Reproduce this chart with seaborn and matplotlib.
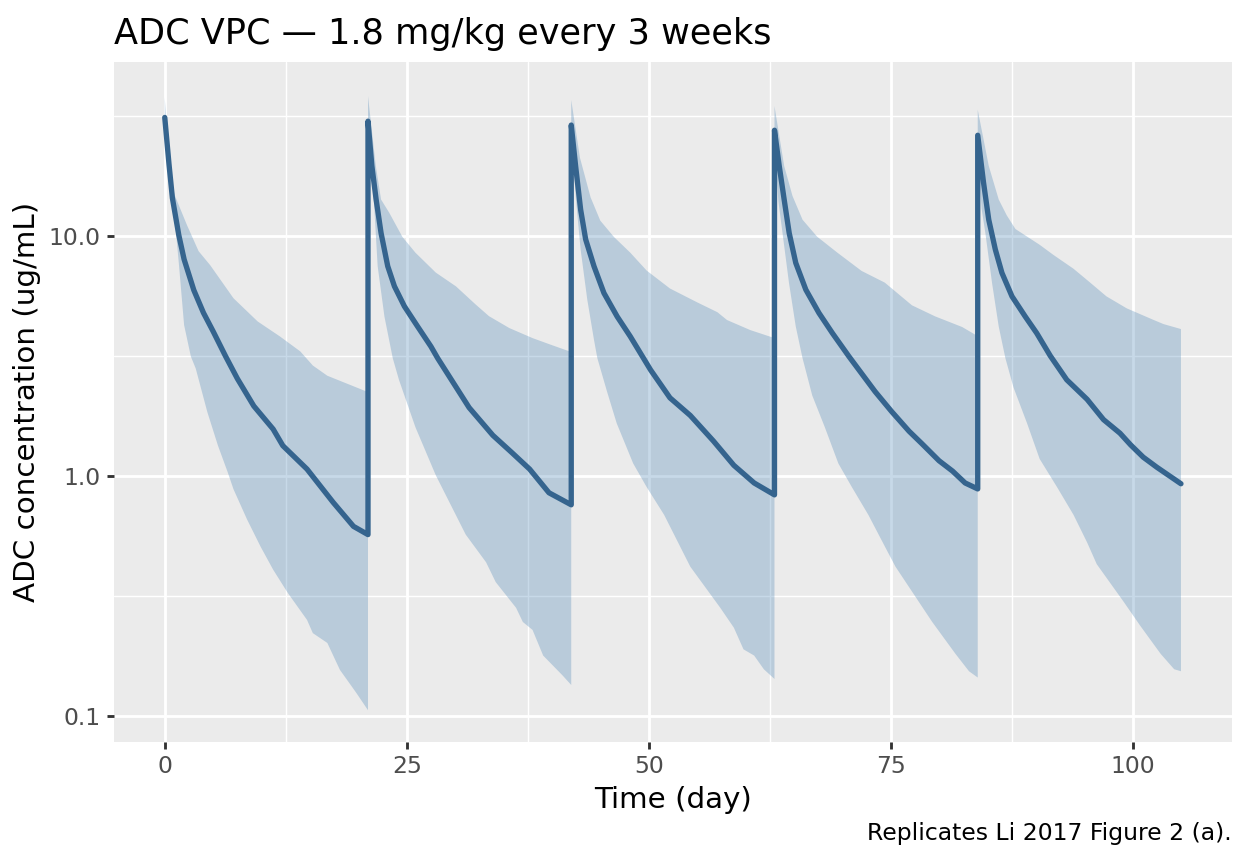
import numpy as np
import pandas as pd
import matplotlib
matplotlib.use("Agg")
import matplotlib.pyplot as plt
import matplotlib.ticker as mticker
import seaborn as sns

med_day = [0, 0.44, 0.79, 1.45, 2.0, 3.0, 4.0, 5.0, 6.3, 7.5, 9.2, 11.2, 12.2, 14.7, 17.4, 19.5, 21.0,
           21.0, 21.4, 21.84, 22.35, 23.04, 23.73, 24.76, 26.13, 27.5, 28.2, 31.45, 33.9, 35.9, 37.7, 39.7, 42.0,
           42.0, 42.45, 42.97, 43.49, 44.35, 45.38, 46.75, 48.1, 50.2, 52.2, 54.3, 56.7, 58.8, 60.9, 63.0,
           63.0, 63.49, 64.0, 64.52, 65.2, 66.24, 67.6, 68.99, 70.7, 73.4, 75.1, 76.9, 78.2, 80.0, 81.4, 82.7, 84.0,
           84.0, 84.6, 85.14, 85.82, 86.5, 87.54, 88.9, 90.1, 91.5, 93.2, 95.3, 97.0, 98.7, 99.8, 101.1, 102.5, 105.0]
med_conc = [31.2, 19.9, 14.4, 10.1, 8.0, 5.96, 4.79, 4.01, 3.15, 2.55, 1.96, 1.57, 1.34, 1.07, 0.778, 0.618, 0.571,
            30.1, 19.6, 14.2, 10.3, 7.49, 6.18, 5.10, 4.20, 3.47, 3.10, 1.93, 1.48, 1.25, 1.07, 0.853, 0.760,
            29.0, 19.6, 12.9, 9.69, 7.49, 5.79, 4.62, 3.82, 2.77, 2.12, 1.79, 1.40, 1.11, 0.937, 0.836,
            27.6, 19.6, 14.2, 10.3, 7.73, 5.98, 4.78, 3.94, 3.15, 2.25, 1.86, 1.54, 1.37, 1.16, 1.05, 0.937, 0.885,
            26.3, 16.7, 11.7, 8.79, 7.03, 5.61, 4.63, 3.94, 3.17, 2.52, 2.09, 1.72, 1.51, 1.35, 1.20, 1.09, 0.93]

# upper edge of the prediction band
hi_day = [0, 0.4, 0.6, 1.0, 2.3, 3.5, 4.7, 7.1, 9.6, 11.9, 14.0, 15.3, 16.8, 21.0,
          21.0, 21.8, 22.35, 23.2, 24.55, 25.9, 28.0, 30.1, 32.1, 33.5, 35.6, 38.0, 39.7, 42.0,
          42.0, 42.9, 44.0, 45.0, 46.4, 48.1, 49.8, 52.2, 55.0, 57.1, 58.1, 60.5, 63.0,
          63.0, 64.0, 64.86, 65.9, 67.4, 69.5, 72.0, 74.4, 77.2, 79.6, 82.4, 84.0,
          84.0, 85.14, 86.17, 87.0, 87.9, 90.4, 91.8, 93.9, 95.6, 97.3, 99.4, 102.2, 103.2, 105.0]
hi_conc = [37.8, 21.2, 18.0, 14.9, 11.1, 8.65, 7.56, 5.51, 4.41, 3.82, 3.31, 2.89, 2.62, 2.24,
           38.3, 19.7, 14.2, 12.5, 9.93, 8.53, 7.05, 6.17, 5.20, 4.64, 4.14, 3.76, 3.55, 3.29,
           36.9, 21.2, 14.5, 11.6, 9.93, 8.53, 7.18, 6.05, 5.30, 4.82, 4.47, 4.06, 3.76,
           34.8, 19.6, 14.7, 11.7, 9.95, 8.53, 7.16, 6.40, 5.15, 4.63, 4.18, 3.83,
           33.6, 19.6, 14.2, 12.2, 10.7, 9.2, 8.36, 7.31, 6.41, 5.61, 5.00, 4.47, 4.30, 4.10]

# lower edge of the prediction band
lo_day = [0, 0.8, 1.47, 2.0, 2.7, 3.2, 4.4, 5.5, 6.5, 7.1, 8.5, 9.9, 11.2, 12.7, 14.7, 15.3, 16.8, 18.1, 19.1, 19.8, 21.0,
          21.0, 21.6, 22.0, 22.7, 23.56, 24.2, 25.9, 28.0, 31.1, 33.2, 34.2, 36.3, 37.0, 38.0, 39.1, 41.1, 42.0,
          42.0, 42.5, 42.97, 43.66, 44.35, 44.7, 45.7, 46.7, 48.4, 49.8, 51.6, 54.3, 57.4, 58.8, 59.8, 60.9, 61.9, 63.0,
          63.0, 63.4, 63.83, 64.5, 65.2, 65.9, 66.9, 68.2, 69.6, 71.0, 72.7, 74.4, 75.5, 78.2, 79.3, 81.7, 83.1, 84.0,
          84.0, 84.4, 84.79, 85.48, 86.17, 86.86, 87.7, 89.1, 90.4, 92.2, 93.9, 95.3, 96.3, 99.1, 100.8, 102.9, 104.3, 105.0]
lo_conc = [27.5, 14.9, 7.58, 4.26, 3.15, 2.81, 1.85, 1.34, 1.04, 0.883, 0.661, 0.509, 0.408, 0.327, 0.252, 0.222, 0.202, 0.156, 0.137, 0.125, 0.106,
           27.0, 14.2, 7.49, 4.62, 3.10, 2.52, 1.60, 1.01, 0.571, 0.438, 0.362, 0.283, 0.247, 0.229, 0.179, 0.148, 0.135,
           26.0, 14.0, 8.79, 5.43, 3.70, 3.10, 2.25, 1.66, 1.13, 0.90, 0.69, 0.42, 0.283, 0.234, 0.19, 0.179, 0.157, 0.143,
           24.5, 14.0, 10.3, 6.38, 4.20, 3.10, 2.17, 1.60, 1.13, 0.90, 0.69, 0.51, 0.42, 0.288, 0.247, 0.182, 0.154, 0.145,
           23.5, 13.0, 10.3, 6.38, 4.20, 3.10, 2.34, 1.66, 1.18, 0.90, 0.69, 0.53, 0.43, 0.299, 0.238, 0.182, 0.157, 0.154]

y_ticks = [0.1, 1.0, 10.0]
y_labels = ["0.1", "1.0", "10.0"]
x_ticks = [0, 25, 50, 75, 100]

sns.set_theme(style="darkgrid", rc={
    "axes.facecolor": "#EBEBEB",
    "grid.color": "white",
    "axes.edgecolor": "#EBEBEB",
})
plt.rcParams["font.family"] = ["DejaVu Sans"]

df = pd.DataFrame({"time": med_day, "conc": med_conc})

fig, ax = plt.subplots(figsize=(6.5, 4.5), dpi=192)
fig.subplots_adjust(left=0.0913, right=0.987, top=0.928, bottom=0.141)

# band as one polygon: upper edge forward, lower edge back
band_x = list(hi_day) + list(lo_day[::-1])
band_y = list(hi_conc) + list(lo_conc[::-1])
ax.fill(band_x, band_y, color="steelblue", alpha=0.3, lw=0)

sns.lineplot(data=df, x="time", y="conc", estimator=None, sort=False,
             color="#35648E", lw=2.0, ax=ax)
ax.lines[-1].set_solid_joinstyle("round")

ax.set_yscale("log")
ax.set_ylim(0.078, 53)
ax.set_xlim(-5.25, 110.25)
ax.yaxis.set_major_locator(mticker.FixedLocator(y_ticks))
ax.yaxis.set_major_formatter(mticker.FixedFormatter(y_labels))
ax.yaxis.set_minor_locator(mticker.FixedLocator([10 ** -0.5, 10 ** 0.5, 10 ** 1.5]))
ax.yaxis.set_minor_formatter(mticker.NullFormatter())
ax.xaxis.set_major_locator(mticker.FixedLocator(x_ticks))
ax.xaxis.set_minor_locator(mticker.FixedLocator([12.5, 37.5, 62.5, 87.5]))

ax.set_axisbelow(True)
ax.grid(which="major", color="white", lw=1.07)
ax.grid(which="minor", color="white", lw=0.53)
for s in ax.spines.values():
    s.set_visible(False)
ax.tick_params(which="major", length=2.75, width=1.07, color="#333333",
               labelcolor="#4D4D4D", labelsize=8.8, pad=2.2,
               bottom=True, left=True)
ax.tick_params(which="minor", length=0)

ax.set_xlabel("Time (day)", fontsize=11, color="black", labelpad=3)
ax.set_ylabel("ADC concentration (ug/mL)", fontsize=11, color="black", labelpad=3)
ax.set_title("ADC VPC \u2014 1.8 mg/kg every 3 weeks", loc="left",
             fontsize=13.2, color="black", pad=7)
fig.text(0.987, 0.022, "Replicates Li 2017 Figure 2 (a).", ha="right",
         va="bottom", fontsize=8.8, color="black")

fig.savefig("out.png", dpi=192)
